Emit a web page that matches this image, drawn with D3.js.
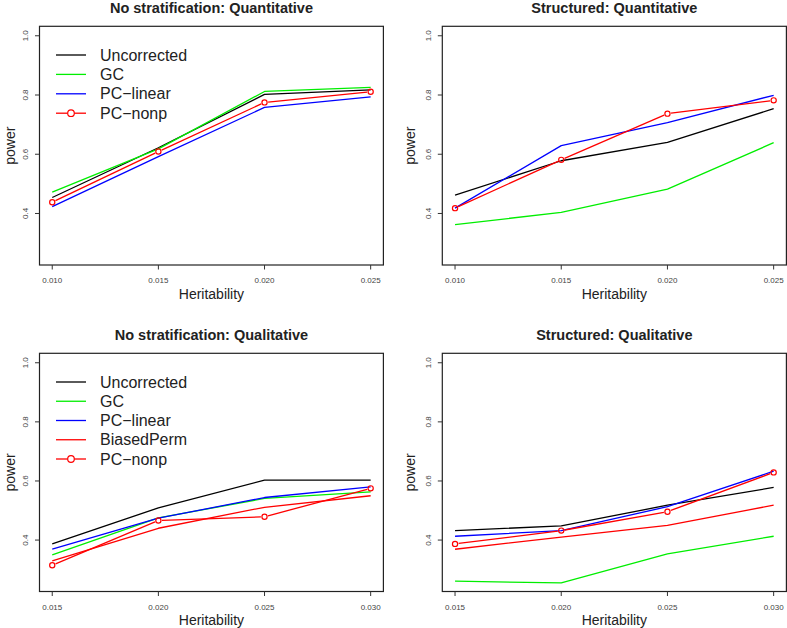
<!DOCTYPE html>
<html>
<head>
<meta charset="utf-8">
<script src="https://cdn.jsdelivr.net/npm/d3@7/dist/d3.min.js"></script>
<style>
  html, body { margin: 0; padding: 0; background: #fff; }
  svg { display: block; font-family: "Liberation Sans", Arial, Helvetica, sans-serif; }
</style>
</head>
<body>
<svg id="chart" width="787" height="628"></svg>
<script>
// ---------- data ----------
const heritabilityTop = [0.010, 0.015, 0.020, 0.025];
const heritabilityBottom = [0.015, 0.020, 0.025, 0.030];
const xTickLabelsTop = ["0.010", "0.015", "0.020", "0.025"];
const xTickLabelsBottom = ["0.015", "0.020", "0.025", "0.030"];
const yTicks = [0.4, 0.6, 0.8, 1.0];
const yTickLabels = ["0.4", "0.6", "0.8", "1.0"];

const titles = [
  "No stratification: Quantitative",
  "Structured: Quantitative",
  "No stratification: Qualitative",
  "Structured: Qualitative"
];

const seriesTop = ["Uncorrected", "GC", "PC\u2212linear", "PC\u2212nonp"];
const seriesBottom = ["Uncorrected", "GC", "PC\u2212linear", "BiasedPerm", "PC\u2212nonp"];

// No stratification: Quantitative
const nsQuantUncorrected = [0.454, 0.622, 0.802, 0.817];
const nsQuantGC          = [0.472, 0.618, 0.812, 0.826];
const nsQuantPClinear    = [0.423, 0.592, 0.758, 0.794];
const nsQuantPCnonp      = [0.438, 0.609, 0.775, 0.811];

// Structured: Quantitative
const stQuantUncorrected = [0.462, 0.578, 0.640, 0.754];
const stQuantGC          = [0.362, 0.404, 0.482, 0.639];
const stQuantPClinear    = [0.418, 0.629, 0.707, 0.799];
const stQuantPCnonp      = [0.418, 0.581, 0.737, 0.782];

// No stratification: Qualitative
const nsQualUncorrected = [0.387, 0.509, 0.603, 0.603];
const nsQualGC          = [0.350, 0.475, 0.541, 0.563];
const nsQualPClinear    = [0.369, 0.474, 0.544, 0.580];
const nsQualBiasedPerm  = [0.330, 0.440, 0.511, 0.550];
const nsQualPCnonp      = [0.315, 0.466, 0.479, 0.575];

// Structured: Qualitative
const stQualUncorrected = [0.432, 0.448, 0.518, 0.578];
const stQualGC          = [0.261, 0.255, 0.353, 0.413];
const stQualPClinear    = [0.413, 0.432, 0.513, 0.633];
const stQualBiasedPerm  = [0.369, 0.410, 0.450, 0.518];
const stQualPCnonp      = [0.387, 0.432, 0.496, 0.629];

// ---------- styles ----------
const colorOf = {
  "Uncorrected": "#000000",
  "GC": "#00ee00",
  "PC\u2212linear": "#0000ff",
  "BiasedPerm": "#ff0000",
  "PC\u2212nonp": "#ff0000"
};
const markerSeries = "PC\u2212nonp";

const panels = [
  { title: titles[0], x: heritabilityTop, xLabels: xTickLabelsTop, names: seriesTop,
    values: [nsQuantUncorrected, nsQuantGC, nsQuantPClinear, nsQuantPCnonp],
    box: { l: 39.5, r: 383.4, t: 26.3, b: 265 }, legend: true, titleY: 13.3, xlabY: 298.5, ylabX: 14.5, tickLabY: 283 },
  { title: titles[1], x: heritabilityTop, xLabels: xTickLabelsTop, names: seriesTop,
    values: [stQuantUncorrected, stQuantGC, stQuantPClinear, stQuantPCnonp],
    box: { l: 442.3, r: 786.4, t: 26.3, b: 265 }, legend: false, titleY: 13.3, xlabY: 298.5, ylabX: 414.5, tickLabY: 283 },
  { title: titles[2], x: heritabilityBottom, xLabels: xTickLabelsBottom, names: seriesBottom,
    values: [nsQualUncorrected, nsQualGC, nsQualPClinear, nsQualBiasedPerm, nsQualPCnonp],
    box: { l: 39.5, r: 383.4, t: 353.3, b: 591.5 }, legend: true, titleY: 339.7, xlabY: 624.5, ylabX: 14.5, tickLabY: 609.5 },
  { title: titles[3], x: heritabilityBottom, xLabels: xTickLabelsBottom, names: seriesBottom,
    values: [stQualUncorrected, stQualGC, stQualPClinear, stQualBiasedPerm, stQualPCnonp],
    box: { l: 442.3, r: 786.4, t: 353.3, b: 591.5 }, legend: false, titleY: 339.7, xlabY: 624.5, ylabX: 414.5, tickLabY: 609.5 }
];

const svg = d3.select("#chart");
const yDomain = [0.226, 1.032];
const tickLen = 4.5;
const gap = 3.6;     // gap between line and marker (type = "b")
const markerR = 2.6;

panels.forEach(p => {
  const g = svg.append("g");
  const x0 = d3.min(p.x), x1 = d3.max(p.x), pad = (x1 - x0) * 0.04;
  const x = d3.scaleLinear().domain([x0 - pad, x1 + pad]).range([p.box.l, p.box.r]);
  const y = d3.scaleLinear().domain(yDomain).range([p.box.b, p.box.t]);

  // series
  p.names.forEach((name, i) => {
    const vals = p.values[i];
    const col = colorOf[name];
    const pts = p.x.map((xv, k) => [x(xv), y(vals[k])]);
    if (name === markerSeries) {
      for (let k = 0; k < pts.length - 1; k++) {
        const [ax, ay] = pts[k], [bx, by] = pts[k + 1];
        const dx = bx - ax, dy = by - ay, len = Math.hypot(dx, dy);
        const ux = dx / len, uy = dy / len;
        g.append("line")
          .attr("x1", ax + ux * gap).attr("y1", ay + uy * gap)
          .attr("x2", bx - ux * gap).attr("y2", by - uy * gap)
          .attr("stroke", col).attr("stroke-width", 1.3);
      }
      g.selectAll(null).data(pts).enter().append("circle")
        .attr("cx", d => d[0]).attr("cy", d => d[1]).attr("r", markerR)
        .attr("fill", "none").attr("stroke", col).attr("stroke-width", 1.2);
    } else {
      g.append("path")
        .attr("d", d3.line()(pts))
        .attr("fill", "none").attr("stroke", col).attr("stroke-width", 1.3)
        .attr("stroke-linejoin", "round");
    }
  });

  // box
  g.append("rect")
    .attr("x", p.box.l).attr("y", p.box.t)
    .attr("width", p.box.r - p.box.l).attr("height", p.box.b - p.box.t)
    .attr("fill", "none").attr("stroke", "#222").attr("stroke-width", 1.2);

  // x axis ticks
  p.x.forEach((xv, k) => {
    g.append("line").attr("x1", x(xv)).attr("x2", x(xv))
      .attr("y1", p.box.b).attr("y2", p.box.b + tickLen)
      .attr("stroke", "#333").attr("stroke-width", 1);
    g.append("text").attr("x", x(xv)).attr("y", p.tickLabY)
      .attr("text-anchor", "middle").attr("font-size", 8).attr("fill", "#444")
      .text(p.xLabels[k]);
  });

  // y axis ticks
  yTicks.forEach((yv, k) => {
    g.append("line").attr("x1", p.box.l - tickLen).attr("x2", p.box.l)
      .attr("y1", y(yv)).attr("y2", y(yv))
      .attr("stroke", "#333").attr("stroke-width", 1);
    const tx = p.box.l - 11.5;
    g.append("text")
      .attr("transform", `translate(${tx},${y(yv)}) rotate(-90)`)
      .attr("text-anchor", "middle").attr("font-size", 8).attr("fill", "#444")
      .text(yTickLabels[k]);
  });

  // title
  g.append("text").attr("x", (p.box.l + p.box.r) / 2).attr("y", p.titleY)
    .attr("text-anchor", "middle").attr("font-size", 14.5).attr("font-weight", "bold")
    .attr("fill", "#222").text(p.title);

  // axis labels
  g.append("text").attr("x", (p.box.l + p.box.r) / 2).attr("y", p.xlabY)
    .attr("text-anchor", "middle").attr("font-size", 14).attr("fill", "#222")
    .text("Heritability");
  const midY = (p.box.t + p.box.b) / 2;
  g.append("text")
    .attr("transform", `translate(${p.ylabX},${midY}) rotate(-90)`)
    .attr("text-anchor", "middle").attr("font-size", 14).attr("fill", "#222")
    .text("power");

  // legend
  if (p.legend) {
    const ly0 = p.box.t + 28.7;
    const dy = p.names.length === 4 ? 19.4 : 19.25;
    const lx1 = p.box.l + 16.5, lx2 = p.box.l + 46.5, tx = p.box.l + 60.5;
    p.names.forEach((name, i) => {
      const ly = ly0 + i * dy;
      const col = colorOf[name];
      if (name === markerSeries) {
        const cx = (lx1 + lx2) / 2, r = 3.3;
        g.append("line").attr("x1", lx1).attr("x2", cx - r).attr("y1", ly).attr("y2", ly)
          .attr("stroke", col).attr("stroke-width", 1.3);
        g.append("line").attr("x1", cx + r).attr("x2", lx2).attr("y1", ly).attr("y2", ly)
          .attr("stroke", col).attr("stroke-width", 1.3);
        g.append("circle").attr("cx", cx).attr("cy", ly).attr("r", r)
          .attr("fill", "none").attr("stroke", col).attr("stroke-width", 1.2);
      } else {
        g.append("line").attr("x1", lx1).attr("x2", lx2).attr("y1", ly).attr("y2", ly)
          .attr("stroke", col).attr("stroke-width", 1.3);
      }
      g.append("text").attr("x", tx).attr("y", ly).attr("dy", "0.35em")
        .attr("font-size", 16).attr("fill", "#222").text(name);
    });
  }
});
</script>
</body>
</html>
